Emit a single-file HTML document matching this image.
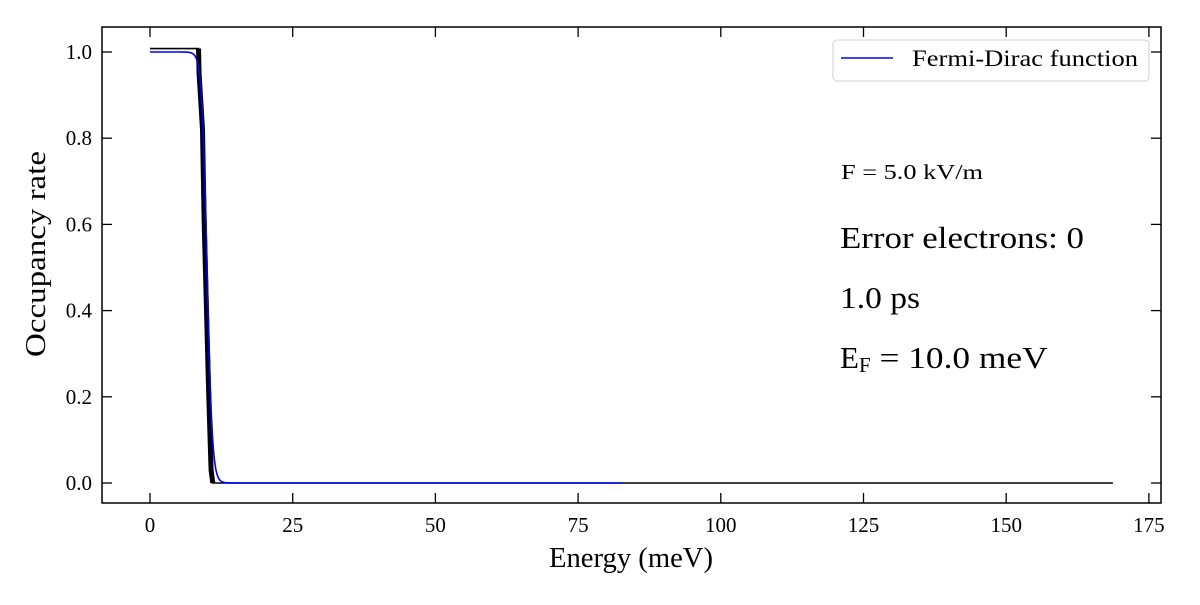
<!DOCTYPE html>
<html><head><meta charset="utf-8"><style>
body{margin:0;background:#fff;}
svg text{font-family:"Liberation Serif","DejaVu Serif",serif;fill:#000;}
</style></head><body>
<svg id="chart" width="1200" height="600" viewBox="0 0 1200 600" xmlns="http://www.w3.org/2000/svg">
<rect width="1200" height="600" fill="#fff"/>
<g id="plot"></g>
</svg>
<script>
const xTicks=[0,25,50,75,100,125,150,175];
const yTicks=[0.0,0.2,0.4,0.6,0.8,1.0];
const simEnergy=[0,8.5,8.6,9.2,9.5,9.9,10.3,10.7,11.0,168.7];
const simOccupancy=[1.008,1.008,0.95,0.82,0.6,0.4,0.2,0.03,0.0,0.0];
const fermiLevel=10.0;
const kT=0.45;
const fdMaxEnergy=82.7;

const L=102,R=1161,T=27,B=503;
const x=v=>150+v*(998.9/175);
const y=v=>483-v*431;
const NS='http://www.w3.org/2000/svg';
const g=document.getElementById('plot');
function mk(tag,attrs){const e=document.createElementNS(NS,tag);for(const k in attrs)e.setAttribute(k,attrs[k]);g.appendChild(e);return e;}

let pts=[];
for(let i=0;i<=1650;i++){const E=i*fdMaxEnergy/1650;pts.push(x(E).toFixed(2)+','+y(1/(1+Math.exp((E-fermiLevel)/kT))).toFixed(2));}
const bl=mk('polyline',{points:simEnergy.map((e,i)=>x(e)+','+y(simOccupancy[i])).join(' '),fill:'none',stroke:'#000','stroke-width':1.6});


const bd=mk('polyline',{points:simEnergy.slice(1,9).map((e,i)=>x(e)+','+y(simOccupancy[i+1])).join(' '),fill:'none',stroke:'#000','stroke-width':5});


const fd=mk('polyline',{points:pts.join(' '),fill:'none',stroke:'#0000ff','stroke-width':1.6});



const fr=mk('rect',{x:L,y:T,width:R-L,height:B-T,fill:'none',stroke:'#000','stroke-width':1.5});


xTicks.forEach(t=>{
 const px=x(t);
 mk('line',{x1:px,x2:px,y1:B,y2:B-10,stroke:'#000','stroke-width':1.3});
 mk('line',{x1:px,x2:px,y1:T,y2:T+10,stroke:'#000','stroke-width':1.3});
 const tx=mk('text',{x:px,y:B+29,'text-anchor':'middle','font-size':21});tx.textContent=t;
 
 
});
yTicks.forEach(t=>{
 const py=y(t);
 mk('line',{x1:L,x2:L+10,y1:py,y2:py,stroke:'#000','stroke-width':1.3});
 mk('line',{x1:R,x2:R-10,y1:py,y2:py,stroke:'#000','stroke-width':1.3});
 const tx=mk('text',{x:L-10,y:py+7,'text-anchor':'end','font-size':21});tx.textContent=t.toFixed(1);
 
 
});
const xl=mk('text',{x:549,y:567,'font-size':28,textLength:164,lengthAdjust:'spacingAndGlyphs'});xl.textContent='Energy (meV)';


const yl=mk('text',{x:0,y:0,'font-size':28,textLength:206,lengthAdjust:'spacingAndGlyphs',transform:'translate(45,357) rotate(-90)'});yl.textContent='Occupancy rate';



const lg=mk('rect',{x:833,y:40,width:316,height:41,rx:4,fill:'#fff',stroke:'#d0d0d0','stroke-width':1});


mk('line',{x1:841,x2:893,y1:58,y2:58,stroke:'#0000ff','stroke-width':1.6});
const lt=mk('text',{x:912,y:66,'font-size':23,textLength:226,lengthAdjust:'spacingAndGlyphs'});lt.textContent='Fermi-Dirac function';



const a1=mk('text',{x:841,y:179,'font-size':21,textLength:142,lengthAdjust:'spacingAndGlyphs'});a1.textContent='F = 5.0 kV/m';


const a2=mk('text',{x:840,y:248,'font-size':31,textLength:244,lengthAdjust:'spacingAndGlyphs'});a2.textContent='Error electrons: 0';


const a3=mk('text',{x:840,y:308,'font-size':31,textLength:80,lengthAdjust:'spacingAndGlyphs'});a3.textContent='1.0 ps';


const a4=mk('text',{x:840,y:368,'font-size':31});a4.innerHTML='E<tspan font-size="21" dy="4">F</tspan><tspan dy="-4" textLength="177" lengthAdjust="spacingAndGlyphs"> = 10.0 meV</tspan>';


</script>
</body></html>
